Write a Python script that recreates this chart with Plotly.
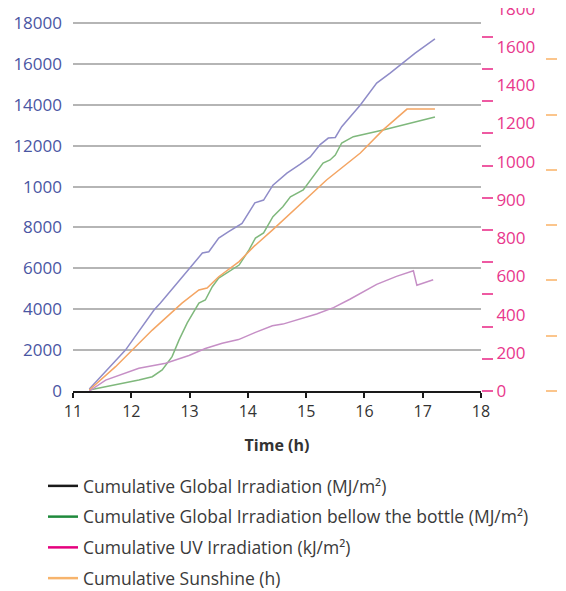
import plotly.graph_objects as go

# time in hours
global_t = [11.28, 11.9, 12.39, 12.5, 12.99, 13.22, 13.33, 13.5, 13.67, 13.9, 14.12, 14.27,
            14.43, 14.67, 14.9, 15.07, 15.24, 15.38, 15.5, 15.61, 15.93, 16.21, 16.44,
            16.66, 16.87, 17.21]
global_v = [100, 2000, 3960, 4300, 5970, 6750, 6810, 7480, 7790, 8200, 9200, 9340,
            10070, 10660, 11100, 11450, 12050, 12370, 12400, 12930, 13990, 15060, 15550,
            16040, 16530, 17220]

bottle_t = [11.28, 11.73, 12.13, 12.36, 12.53, 12.7, 12.82, 12.96, 13.16, 13.27, 13.39, 13.5,
            13.85, 14.02, 14.13, 14.27, 14.43, 14.6, 14.73, 14.95, 15.12, 15.29, 15.41,
            15.5, 15.61, 15.81, 16.32, 16.78, 17.21]
bottle_v = [50, 290, 540, 700, 1030, 1680, 2500, 3330, 4300, 4450, 5100, 5520,
            6160, 6900, 7480, 7730, 8530, 9010, 9500, 9830, 10480, 11150, 11300,
            11540, 12130, 12440, 12770, 13100, 13400]

uv_t = [11.28, 11.56, 12.13, 12.59, 12.99, 13.27, 13.56, 13.84, 14.13, 14.42, 14.6, 15.18,
        15.47, 15.75, 16.21, 16.55, 16.84, 16.9, 17.18]
uv_v = [0, 57, 119, 145, 186, 222, 250, 269, 307, 341, 350, 403,
        436, 480, 558, 600, 629, 553, 582]

sun_t = [11.28, 11.73, 12.36, 12.59, 12.87, 13.16, 13.3, 13.5, 13.85, 14.1, 14.42, 15.35,
         15.93, 16.32, 16.73, 17.21]
sun_v = [50, 1190, 2980, 3570, 4300, 4940, 5040, 5590, 6330, 7060, 7870, 10320,
         11640, 12770, 13790, 13790]

left_vals = [0, 2000, 4000, 6000, 8000, 10000, 12000, 14000, 16000, 18000]
left_text = ['0', '2000', '4000', '6000', '8000', '1000', '12000', '14000', '16000', '18000']
uv_vals = [0, 200, 400, 600, 800, 1000, 1200, 1400, 1600, 1800, 2000]
uv_text = ['0', '200', '400', '600', '800', '900', '1000', '1200', '1400', '1600', '1800']

names = ['Cumulative Global Irradiation (MJ/m²)',
         'Cumulative Global Irradiation bellow the bottle (MJ/m²)',
         'Cumulative UV Irradiation (kJ/m²)',
         'Cumulative Sunshine (h)']
legend_colors = ['#1a1a1a', '#1f8a3c', '#e5007e', '#f7b46c']

FONT = 'Open Sans'
# the page puts the figure 8px in from the window corner, so the sizes below allow for that
L, PW, PH = 65, 488, 383
xend = (473 - L) / PW

fig = go.Figure()
fig.add_trace(go.Scatter(x=global_t, y=global_v, mode='lines', showlegend=False,
                         line=dict(color='#8f8cc8', width=1.5)))
fig.add_trace(go.Scatter(x=bottle_t, y=bottle_v, mode='lines', showlegend=False,
                         line=dict(color='#7fb87c', width=1.5)))
fig.add_trace(go.Scatter(x=sun_t, y=sun_v, mode='lines', showlegend=False,
                         line=dict(color='#f4a563', width=1.5)))
fig.add_trace(go.Scatter(x=uv_t, y=uv_v, mode='lines', showlegend=False, yaxis='y3',
                         line=dict(color='#c68fc6', width=1.5)))

# legend entries use their own (darker) colours, like the original
for i, (n, c) in enumerate(zip(names, legend_colors)):
    fig.add_trace(go.Scatter(x=[None], y=[None], mode='lines', name=n, legendgroup=str(i),
                             line=dict(color=c, width=2.5)))

# empty traces keep the extra tick axes on the page
fig.add_trace(go.Scatter(x=[None], y=[None], yaxis='y4', showlegend=False))
fig.add_trace(go.Scatter(x=[None], y=[None], yaxis='y2', showlegend=False))

fig.update_layout(
    width=566, height=591,
    margin=dict(l=L, r=566 - L - PW, t=0, b=591 - PH, autoexpand=False),
    paper_bgcolor='white', plot_bgcolor='white',
    font=dict(family=FONT, color='#333333'),
    xaxis=dict(domain=[0, xend], range=[11, 18], dtick=1, showgrid=False, zeroline=False,
               showline=True, linecolor='#1a1a1a', linewidth=2, automargin=False,
               ticks='outside', ticklen=5, tickcolor='#1a1a1a', tickwidth=1.5,
               tickfont=dict(size=16, color='#333333'),
               title=dict(text='<b>Time (h)</b>', font=dict(size=16, color='#333333'), standoff=19)),
    yaxis=dict(range=[0, PH / 368 * 18000], tickvals=left_vals, ticktext=left_text,
               showgrid=True, gridcolor='#b5b5b5', gridwidth=1.5, zeroline=False,
               showline=False, ticks='', ticklabelstandoff=10, automargin=False,
               tickfont=dict(size=17, color='#4a56a3')),
    yaxis2=dict(overlaying='y', side='right', anchor='free', position=xend,
                range=[0, PH / 32.2], tickvals=list(range(12)), showticklabels=False,
                showgrid=False, zeroline=False, showline=False, automargin=False,
                ticks='outside', ticklen=11, tickwidth=2, tickcolor='#ee5aa2'),
    yaxis3=dict(overlaying='y', side='right', anchor='free', position=xend,
                range=[0, 2004], tickvals=uv_vals, ticktext=uv_text,
                showgrid=False, zeroline=False, showline=False, automargin=False,
                ticks='outside', ticklen=11, tickcolor='rgba(0,0,0,0)',
                ticklabeloverflow='allow',
                tickfont=dict(size=17, color='#e8378c')),
    yaxis4=dict(overlaying='y', side='right', anchor='free', position=(537 - L) / PW,
                range=[0, PH / 55.3], tickvals=list(range(7)), showticklabels=False,
                showgrid=False, zeroline=False, showline=False, automargin=False,
                ticks='outside', ticklen=11, tickwidth=1.5, tickcolor='#fbc58c'),
    legend=dict(x=(35 - L) / PW, xanchor='left', y=(PH - 460) / PH, yanchor='top',
                traceorder='grouped', tracegroupgap=5,
                font=dict(size=17.5, color='#3a3a3a'), bgcolor='rgba(0,0,0,0)'),
)

fig.write_html("out.html")
